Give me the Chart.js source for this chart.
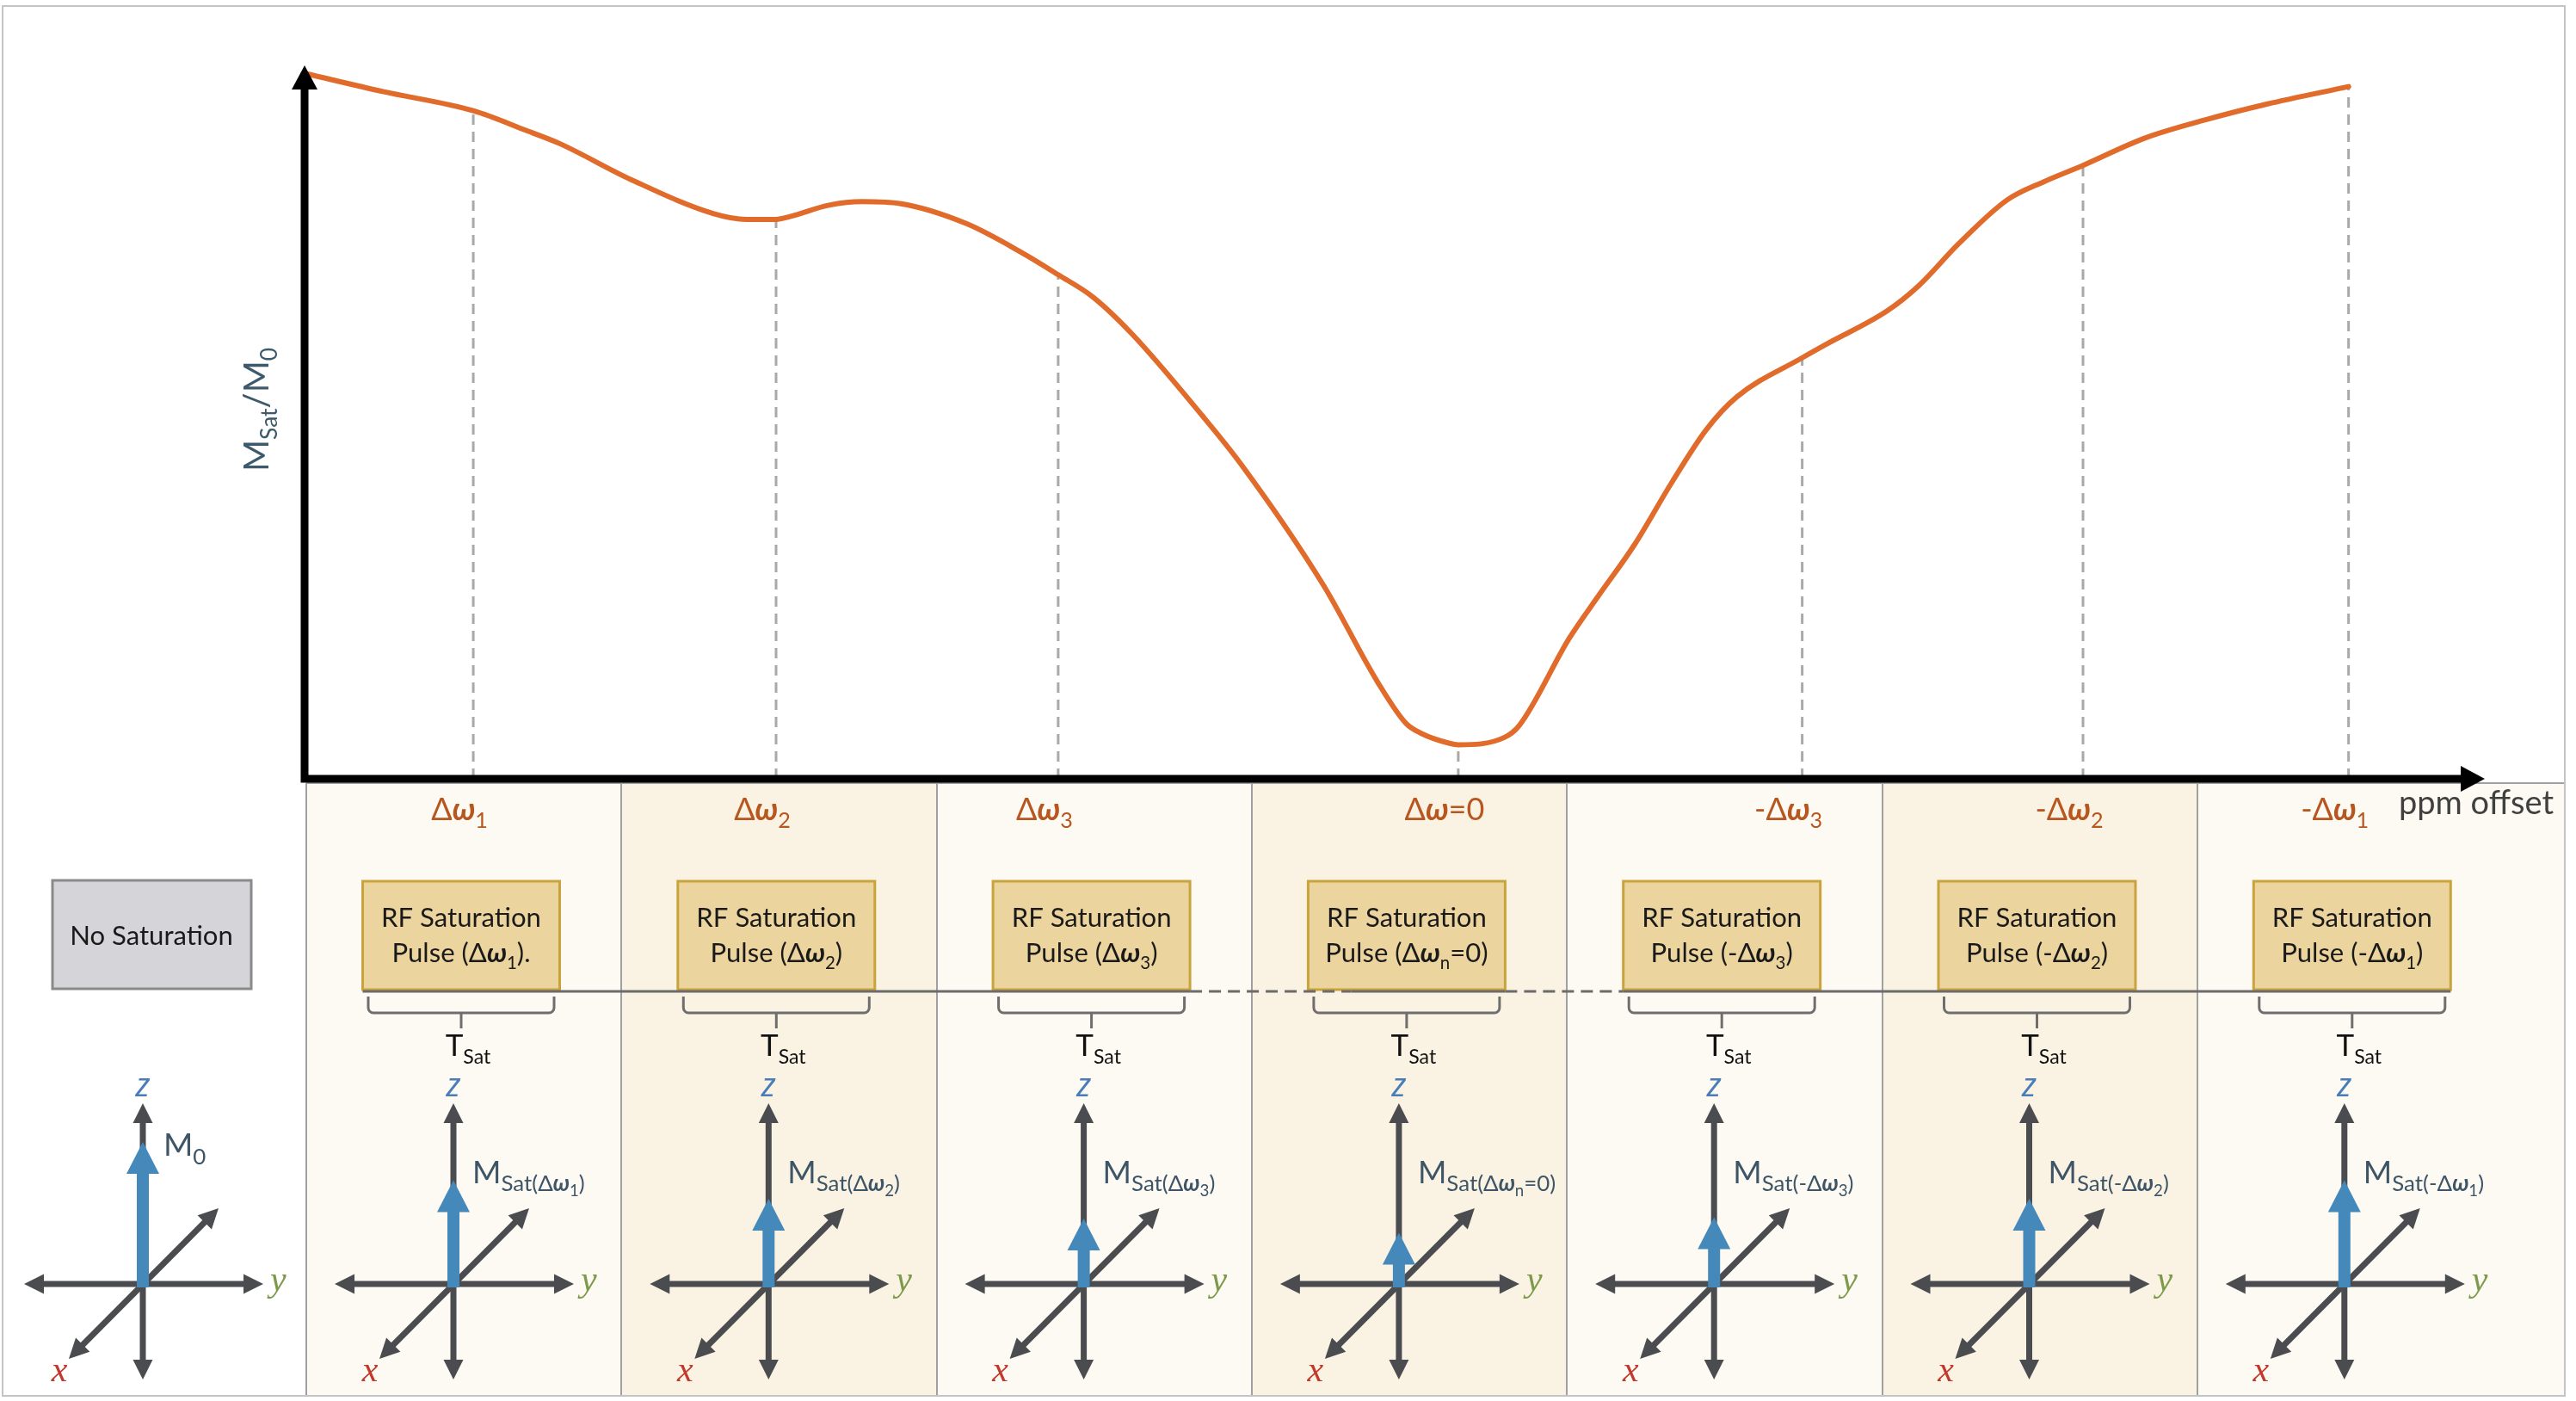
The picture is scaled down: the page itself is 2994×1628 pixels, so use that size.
<!DOCTYPE html>
<html>
<head>
<meta charset="utf-8">
<script src="https://cdn.jsdelivr.net/npm/chart.js@4.4.1/dist/chart.umd.min.js"></script>
<style>
  html, body { margin: 0; padding: 0; background: #fff; overflow: hidden; }
  canvas { display: block; }
</style>
</head>
<body>
<canvas id="cest" width="2994" height="1628"></canvas>
<script>
// Z-spectrum (x: position along the offset axis, 0..100; y: Msat/M0)
const curveX = [0.1, 3.6, 7.75, 10.2, 11.7, 15.0, 18.8, 20.3, 21.66, 22.3, 24.1, 25.6, 27.4, 30.4, 32.9,
  34.62, 36.2, 38.0, 41.2, 43.0, 46.8, 49.3, 50.6, 51.3, 52.6, 53.0, 55.1, 55.8, 58.1, 59.4, 61.1,
  62.8, 64.4, 65.8, 68.8, 69.9, 72.7, 74.1, 76.0, 78.2, 79.9, 81.7, 84.5, 87.3, 90.1, 93.9];
const curveY = [0.993, 0.968, 0.941, 0.913, 0.895, 0.844, 0.796, 0.788, 0.788, 0.792, 0.808, 0.813, 0.810, 0.782, 0.742,
  0.710, 0.679, 0.627, 0.513, 0.444, 0.273, 0.136, 0.078, 0.064, 0.050, 0.048, 0.058, 0.075, 0.198, 0.256, 0.330,
  0.417, 0.492, 0.538, 0.593, 0.612, 0.659, 0.693, 0.754, 0.815, 0.841, 0.864, 0.902, 0.928, 0.950, 0.975];

// saturation offsets marked on the curve
const offsetX = [7.75, 21.66, 34.62, 53.0, 68.8, 81.7, 93.9];
const offsetY = [0.941, 0.788, 0.710, 0.048, 0.593, 0.864, 0.975];
const offsetLabels = ['Δω_{1}', 'Δω_{2}', 'Δω_{3}', 'Δω=0', '-Δω_{3}', '-Δω_{2}', '-Δω_{1}'];
const pulseLabels = ['Pulse (Δω_{1}).', 'Pulse (Δω_{2})', 'Pulse (Δω_{3})', 'Pulse (Δω_{n}=0)',
  'Pulse (-Δω_{3})', 'Pulse (-Δω_{2})', 'Pulse (-Δω_{1})'];

// magnetisation vectors: no saturation + one per offset (fraction of M0)
const magLabels = ['M_{0}', 'M_{Sat(Δω_{1})}', 'M_{Sat(Δω_{2})}', 'M_{Sat(Δω_{3})}', 'M_{Sat(Δω_{n}=0)}',
  'M_{Sat(-Δω_{3})}', 'M_{Sat(-Δω_{2})}', 'M_{Sat(-Δω_{1})}'];
const magLength = [1.0, 0.73, 0.60, 0.46, 0.36, 0.47, 0.60, 0.73];

const FONT = "Lato, 'Noto Sans', sans-serif";
const PANEL_LEFT = 356, PANEL_W = 366.3, PANEL_TOP = 910, PANEL_BOTTOM = 1621, FRAME_RIGHT = 2981;
const M0_PX = 165;

// tiny markup: _{...} = subscript, ω drawn bold italic
function parse(str) {
  const out = [];
  let level = 0;
  for (let i = 0; i < str.length; i++) {
    if (str[i] === '_' && str[i + 1] === '{') { level++; i++; continue; }
    if (str[i] === '}') { level--; continue; }
    const omega = str[i] === 'ω';
    const last = out[out.length - 1];
    if (last && last.level === level && last.omega === omega) last.t += str[i];
    else out.push({ t: str[i], level, omega });
  }
  return out;
}

function drawRich(ctx, str, x, y, size, opts = {}) {
  const segs = parse(str);
  const fam = opts.family || FONT;
  const sub = opts.sub || 0.66;
  const font = s => (s.omega ? 'italic bold ' : (opts.italic ? 'italic ' : '')) +
    (size * Math.pow(sub, s.level)).toFixed(1) + 'px ' + fam;
  const dy = s => s.level === 0 ? 0 : size * (s.level === 1 ? 0.26 : 0.42);
  let w = 0;
  segs.forEach(s => { ctx.font = font(s); s.w = ctx.measureText(s.t).width; w += s.w; });
  let cx = opts.align === 'center' ? x - w / 2 : x;
  ctx.textAlign = 'left';
  ctx.textBaseline = 'alphabetic';
  segs.forEach(s => { ctx.font = font(s); ctx.fillText(s.t, cx, y + dy(s)); cx += s.w; });
}

function fitSize(ctx, text, target) {
  ctx.font = '100px ' + FONT;
  return 100 * target / ctx.measureText(text).width;
}

function head(ctx, x, y, ang, len, wid) {
  const c = Math.cos(ang), s = Math.sin(ang);
  const bx = x - len * c, by = y - len * s;
  ctx.beginPath();
  ctx.moveTo(x, y);
  ctx.lineTo(bx - wid / 2 * s, by + wid / 2 * c);
  ctx.lineTo(bx + wid / 2 * s, by - wid / 2 * c);
  ctx.closePath();
  ctx.fill();
}

function arrowLine(ctx, x0, y0, x1, y1, both) {
  const ang = Math.atan2(y1 - y0, x1 - x0);
  const L = 20, c = Math.cos(ang), s = Math.sin(ang);
  ctx.beginPath();
  ctx.moveTo(both ? x0 + L * c : x0, both ? y0 + L * s : y0);
  ctx.lineTo(x1 - L * c, y1 - L * s);
  ctx.stroke();
  head(ctx, x1, y1, ang, 23, 23);
  if (both) head(ctx, x0, y0, ang + Math.PI, 23, 23);
}

function axes3d(ctx, cx, cy, frac, label) {
  ctx.save();
  ctx.strokeStyle = ctx.fillStyle = '#4b4c50';
  ctx.lineWidth = 7;
  arrowLine(ctx, cx, cy + 111, cx, cy - 210, true);
  arrowLine(ctx, cx - 138, cy, cx + 140, cy, true);
  arrowLine(ctx, cx - 86, cy + 87, cx + 88, cy - 88, true);

  // magnetisation along z
  const L = frac * M0_PX;
  ctx.fillStyle = '#4589bb';
  ctx.fillRect(cx - 7, cy - L + 34, 14, L - 34 + 4);
  ctx.beginPath();
  ctx.moveTo(cx, cy - L);
  ctx.lineTo(cx - 19, cy - L + 37);
  ctx.lineTo(cx + 19, cy - L + 37);
  ctx.closePath();
  ctx.fill();

  ctx.fillStyle = '#4a7db8';
  drawRich(ctx, 'z', cx, cy - 218, 38, { italic: true, align: 'center', family: "'Noto Sans'" });
  ctx.fillStyle = '#7d9a4a';
  drawRich(ctx, 'y', cx + 148, cy + 8, 42, { italic: true, family: "'Liberation Serif'" });
  ctx.fillStyle = '#c0392b';
  drawRich(ctx, 'x', cx - 97, cy + 113, 42, { italic: true, align: 'center', family: "'Liberation Serif'" });

  ctx.fillStyle = '#3d5566';
  if (label === 'M_{0}') drawRich(ctx, label, cx + 24, cy - 149, 37, { sub: 0.7 });
  else drawRich(ctx, label, cx + 22, cy - 117, 36, { sub: 0.72 });
  ctx.restore();
}

const diagram = {
  id: 'diagram',
  beforeDraw(chart) {
    const ctx = chart.ctx;
    ctx.save();
    ctx.fillStyle = '#fff';
    ctx.fillRect(0, 0, chart.width, chart.height);
    for (let i = 0; i < 7; i++) {
      const x0 = PANEL_LEFT + i * PANEL_W;
      const x1 = i === 6 ? FRAME_RIGHT : x0 + PANEL_W;
      ctx.fillStyle = i % 2 ? '#faf3e4' : '#fdfaf3';
      ctx.fillRect(x0, PANEL_TOP, x1 - x0, PANEL_BOTTOM - PANEL_TOP);
    }
    ctx.strokeStyle = '#a0a0a0';
    ctx.lineWidth = 2;
    for (let i = 0; i < 7; i++) {
      const x0 = Math.round(PANEL_LEFT + i * PANEL_W);
      ctx.beginPath(); ctx.moveTo(x0, PANEL_TOP); ctx.lineTo(x0, PANEL_BOTTOM); ctx.stroke();
    }
    ctx.beginPath(); ctx.moveTo(PANEL_LEFT, PANEL_TOP); ctx.lineTo(FRAME_RIGHT, PANEL_TOP); ctx.stroke();
    ctx.strokeStyle = '#c4c4c4';
    ctx.strokeRect(3, 7, FRAME_RIGHT - 3, PANEL_BOTTOM + 1 - 7);
    ctx.restore();
  },
  afterDatasetsDraw(chart) {
    const ctx = chart.ctx;
    const { left, right, top, bottom } = chart.chartArea;
    const xs = chart.scales.x;
    ctx.save();

    // main axes with arrow heads
    ctx.strokeStyle = ctx.fillStyle = '#000';
    ctx.lineWidth = 9;
    ctx.beginPath();
    ctx.moveTo(left, top + 20); ctx.lineTo(left, bottom + 4.5);
    ctx.moveTo(left - 4.5, bottom); ctx.lineTo(right - 20, bottom);
    ctx.stroke();
    head(ctx, left, top - 4, -Math.PI / 2, 28, 30);
    head(ctx, right + 4, bottom, 0, 28, 30);

    // axis titles
    ctx.fillStyle = '#3d5a6c';
    ctx.save();
    ctx.translate(312, 476);
    ctx.rotate(-Math.PI / 2);
    drawRich(ctx, 'M_{Sat}/M_{0}', 0, 0, 40, { align: 'center' });
    ctx.restore();
    ctx.fillStyle = '#404040';
    drawRich(ctx, 'ppm offset', 2788, 946, fitSize(ctx, 'ppm offset', 180));

    // offset labels
    ctx.fillStyle = '#b8561f';
    offsetLabels.forEach((t, i) => {
      drawRich(ctx, t, xs.getPixelForValue(offsetX[i]) - 16, 953, 36, { align: 'center', sub: 0.7 });
    });

    // no-saturation reference
    ctx.fillStyle = '#d5d5d9';
    ctx.strokeStyle = '#8a8a8a';
    ctx.lineWidth = 3;
    ctx.fillRect(61, 1023, 231, 126);
    ctx.strokeRect(61, 1023, 231, 126);
    ctx.fillStyle = '#1a1a1a';
    drawRich(ctx, 'No Saturation', 176, 1098, fitSize(ctx, 'No Saturation', 190), { align: 'center' });
    axes3d(ctx, 166, 1492, magLength[0], magLabels[0]);

    // saturation pulses
    const rfSize = fitSize(ctx, 'RF Saturation', 186);
    const bc = pulseLabels.map((_, i) => PANEL_LEFT + i * PANEL_W + 180);
    bc.forEach((cx, i) => {
      ctx.fillStyle = '#ebd49d';
      ctx.strokeStyle = '#c9a33c';
      ctx.lineWidth = 3;
      ctx.fillRect(cx - 114.5, 1024, 229, 126);
      ctx.strokeRect(cx - 114.5, 1024, 229, 126);
      ctx.fillStyle = '#1a1a1a';
      drawRich(ctx, 'RF Saturation', cx, 1077, rfSize, { align: 'center' });
      drawRich(ctx, pulseLabels[i], cx, 1118, rfSize, { align: 'center' });

      // brace + T_sat
      ctx.strokeStyle = '#6e6e6e';
      ctx.lineWidth = 3;
      ctx.beginPath();
      ctx.moveTo(cx - 108, 1158);
      ctx.arcTo(cx - 108, 1177, cx - 100, 1177, 6);
      ctx.lineTo(cx + 100, 1177);
      ctx.arcTo(cx + 108, 1177, cx + 108, 1158, 6);
      ctx.lineTo(cx + 108, 1158);
      ctx.moveTo(cx, 1177); ctx.lineTo(cx, 1195);
      ctx.stroke();
      ctx.fillStyle = '#111';
      drawRich(ctx, 'T_{Sat}', cx + 8, 1227, 35, { align: 'center' });

      axes3d(ctx, cx - 9, 1492, magLength[i + 1], magLabels[i + 1]);
    });

    // timeline under the pulses
    ctx.strokeStyle = '#6b6b6b';
    ctx.lineWidth = 3;
    const seg = (a, b, dash) => {
      ctx.setLineDash(dash ? [14, 8] : []);
      ctx.beginPath(); ctx.moveTo(a, 1152); ctx.lineTo(b, 1152); ctx.stroke();
    };
    seg(bc[0] - 114.5, bc[2] + 114.5, false);
    seg(bc[2] + 114.5, bc[3] - 114.5 + 50, true);
    seg(bc[3] - 114.5 + 50, bc[3] + 114.5, false);
    seg(bc[3] + 114.5, bc[4] - 114.5, true);
    seg(bc[4] - 114.5, bc[6] + 114.5, false);
    ctx.setLineDash([]);
    ctx.restore();
  }
};

new Chart(document.getElementById('cest'), {
  type: 'line',
  data: {
    datasets: [
      {
        data: curveX.map((x, i) => ({ x, y: curveY[i] })),
        borderColor: '#e06b2b',
        borderWidth: 6,
        cubicInterpolationMode: 'monotone',
        borderCapStyle: 'round',
        order: 0
      },
      ...offsetX.map((x, i) => ({
        data: [{ x, y: 0 }, { x, y: offsetY[i] }],
        borderColor: '#a9a9a9',
        borderWidth: 3,
        borderDash: [12, 8],
        tension: 0,
        order: 1
      }))
    ]
  },
  options: {
    responsive: false,
    animation: false,
    devicePixelRatio: 1,
    layout: { padding: { left: 354, right: 110, top: 80, bottom: 723 } },
    scales: {
      x: { type: 'linear', min: 0, max: 100, display: false },
      y: { min: 0, max: 1, display: false }
    },
    elements: { point: { radius: 0 } },
    plugins: { legend: { display: false }, tooltip: { enabled: false } }
  },
  plugins: [diagram]
});
</script>
</body>
</html>
